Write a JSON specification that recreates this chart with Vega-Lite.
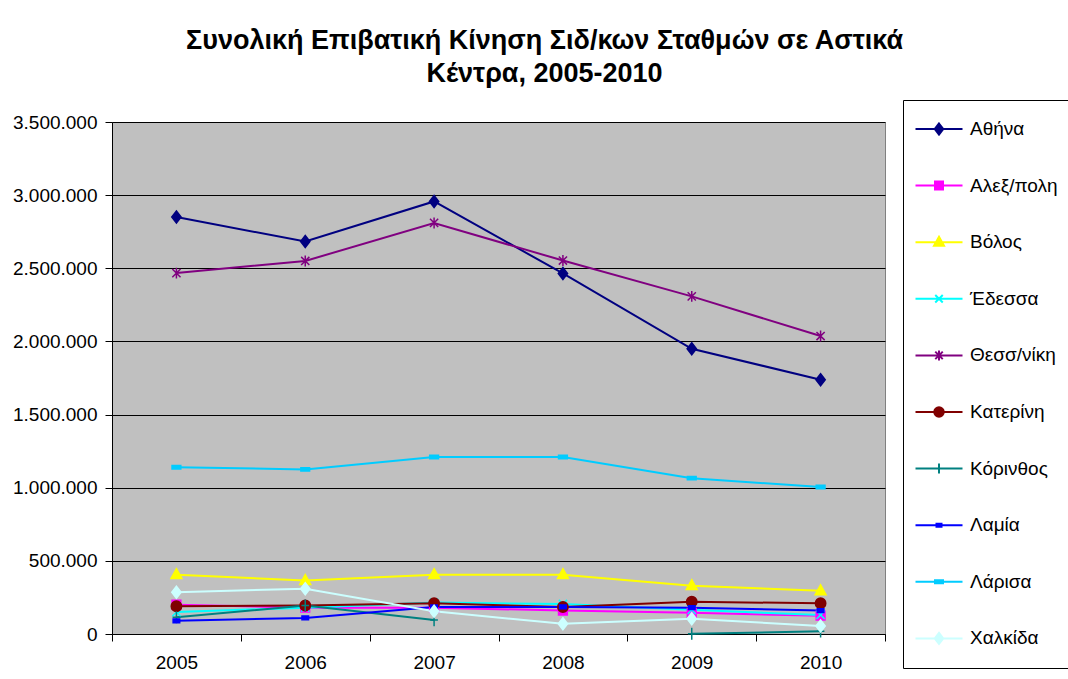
{
  "$schema": "https://vega.github.io/schema/vega-lite/v6.json",
  "width": 773,
  "height": 512,
  "autosize": {"type": "none"},
  "padding": {"left": 112, "top": 122, "right": 183, "bottom": 45},
  "background": "white",
  "title": {
    "text": ["Συνολική Επιβατική Κίνηση Σιδ/κων Σταθμών σε Αστικά", "Κέντρα, 2005-2010"],
    "font": "Liberation Sans",
    "fontSize": 27,
    "fontWeight": "bold",
    "color": "black",
    "anchor": "middle",
    "frame": "group",
    "dx": 46,
    "offset": 12,
    "lineHeight": 33
  },
  "data": {
    "values": [
      {"year": "2005", "city": "Αθήνα", "value": 2850000},
      {"year": "2006", "city": "Αθήνα", "value": 2683000},
      {"year": "2007", "city": "Αθήνα", "value": 2957000},
      {"year": "2008", "city": "Αθήνα", "value": 2465000},
      {"year": "2009", "city": "Αθήνα", "value": 1950000},
      {"year": "2010", "city": "Αθήνα", "value": 1738000},
      {"year": "2005", "city": "Αλεξ/πολη", "value": 200000},
      {"year": "2006", "city": "Αλεξ/πολη", "value": 180000},
      {"year": "2007", "city": "Αλεξ/πολη", "value": 180000},
      {"year": "2008", "city": "Αλεξ/πολη", "value": 160000},
      {"year": "2009", "city": "Αλεξ/πολη", "value": 145000},
      {"year": "2010", "city": "Αλεξ/πολη", "value": 125000},
      {"year": "2005", "city": "Βόλος", "value": 405000},
      {"year": "2006", "city": "Βόλος", "value": 365000},
      {"year": "2007", "city": "Βόλος", "value": 405000},
      {"year": "2008", "city": "Βόλος", "value": 405000},
      {"year": "2009", "city": "Βόλος", "value": 330000},
      {"year": "2010", "city": "Βόλος", "value": 295000},
      {"year": "2005", "city": "Έδεσσα", "value": 150000},
      {"year": "2006", "city": "Έδεσσα", "value": 180000},
      {"year": "2007", "city": "Έδεσσα", "value": 215000},
      {"year": "2008", "city": "Έδεσσα", "value": 205000},
      {"year": "2009", "city": "Έδεσσα", "value": 165000},
      {"year": "2010", "city": "Έδεσσα", "value": 130000},
      {"year": "2005", "city": "Θεσσ/νίκη", "value": 2467000},
      {"year": "2006", "city": "Θεσσ/νίκη", "value": 2550000},
      {"year": "2007", "city": "Θεσσ/νίκη", "value": 2810000},
      {"year": "2008", "city": "Θεσσ/νίκη", "value": 2553000},
      {"year": "2009", "city": "Θεσσ/νίκη", "value": 2308000},
      {"year": "2010", "city": "Θεσσ/νίκη", "value": 2037000},
      {"year": "2005", "city": "Κατερίνη", "value": 190000},
      {"year": "2006", "city": "Κατερίνη", "value": 195000},
      {"year": "2007", "city": "Κατερίνη", "value": 210000},
      {"year": "2008", "city": "Κατερίνη", "value": 185000},
      {"year": "2009", "city": "Κατερίνη", "value": 220000},
      {"year": "2010", "city": "Κατερίνη", "value": 210000},
      {"year": "2005", "city": "Κόρινθος", "value": 115000},
      {"year": "2006", "city": "Κόρινθος", "value": 195000},
      {"year": "2007", "city": "Κόρινθος", "value": 95000},
      {"year": "2008", "city": "Κόρινθος", "value": null},
      {"year": "2009", "city": "Κόρινθος", "value": 2000},
      {"year": "2010", "city": "Κόρινθος", "value": 18000},
      {"year": "2005", "city": "Λαμία", "value": 90000},
      {"year": "2006", "city": "Λαμία", "value": 110000},
      {"year": "2007", "city": "Λαμία", "value": 185000},
      {"year": "2008", "city": "Λαμία", "value": 185000},
      {"year": "2009", "city": "Λαμία", "value": 180000},
      {"year": "2010", "city": "Λαμία", "value": 160000},
      {"year": "2005", "city": "Λάρισα", "value": 1140000},
      {"year": "2006", "city": "Λάρισα", "value": 1125000},
      {"year": "2007", "city": "Λάρισα", "value": 1210000},
      {"year": "2008", "city": "Λάρισα", "value": 1210000},
      {"year": "2009", "city": "Λάρισα", "value": 1065000},
      {"year": "2010", "city": "Λάρισα", "value": 1005000},
      {"year": "2005", "city": "Χαλκίδα", "value": 285000},
      {"year": "2006", "city": "Χαλκίδα", "value": 310000},
      {"year": "2007", "city": "Χαλκίδα", "value": 155000},
      {"year": "2008", "city": "Χαλκίδα", "value": 70000},
      {"year": "2009", "city": "Χαλκίδα", "value": 105000},
      {"year": "2010", "city": "Χαλκίδα", "value": 55000}
    ]
  },
  "encoding": {
    "x": {
      "field": "year",
      "type": "ordinal",
      "scale": {"paddingInner": 0, "paddingOuter": 0},
      "axis": {
        "title": null,
        "labelAngle": 0,
        "tickBand": "extent",
        "tickSize": 7,
        "labelPadding": 12,
        "labelFont": "Liberation Sans",
        "labelFontSize": 19,
        "labelColor": "black",
        "domainColor": "black",
        "tickColor": "black",
        "grid": false
      }
    },
    "y": {
      "field": "value",
      "type": "quantitative",
      "scale": {"domain": [0, 3500000], "nice": false},
      "axis": {
        "title": null,
        "values": [0, 500000, 1000000, 1500000, 2000000, 2500000, 3000000, 3500000],
        "format": ",d",
        "labelFont": "Liberation Sans",
        "labelFontSize": 19,
        "labelColor": "black",
        "tickSize": 7,
        "labelPadding": 8,
        "tickColor": "black",
        "domainColor": "black",
        "gridColor": "black",
        "gridWidth": 1,
        "gridOpacity": 1
      }
    }
  },
  "layer": [
    {
      "mark": {"type": "line", "strokeWidth": 2, "invalid": "break-paths-filter-domains"},
      "encoding": {
        "stroke": {
          "field": "city",
          "type": "nominal",
          "scale": {
            "domain": ["Αθήνα", "Αλεξ/πολη", "Βόλος", "Έδεσσα", "Θεσσ/νίκη", "Κατερίνη", "Κόρινθος", "Λαμία", "Λάρισα", "Χαλκίδα"],
            "range": ["#000080", "#FF00FF", "#FFFF00", "#00FFFF", "#800080", "#800000", "#008080", "#0000FF", "#00CCFF", "#CCFFFF"]
          },
          "legend": null
        }
      }
    },
    {
      "mark": {"type": "point", "filled": true, "size": 120, "strokeWidth": 1.5, "opacity": 1},
      "encoding": {
        "fill": {
          "field": "city",
          "type": "nominal",
          "scale": {
            "domain": ["Αθήνα", "Αλεξ/πολη", "Βόλος", "Έδεσσα", "Θεσσ/νίκη", "Κατερίνη", "Κόρινθος", "Λαμία", "Λάρισα", "Χαλκίδα"],
            "range": ["#000080", "#FF00FF", "#FFFF00", "#00FFFF", "#800080", "#800000", "#008080", "#0000FF", "#00CCFF", "#CCFFFF"]
          },
          "legend": null
        },
        "stroke": {
          "field": "city",
          "type": "nominal",
          "scale": {
            "domain": ["Αθήνα", "Αλεξ/πολη", "Βόλος", "Έδεσσα", "Θεσσ/νίκη", "Κατερίνη", "Κόρινθος", "Λαμία", "Λάρισα", "Χαλκίδα"],
            "range": ["#000080", "#FF00FF", "#FFFF00", "#00FFFF", "#800080", "#800000", "#008080", "#0000FF", "#00CCFF", "#CCFFFF"]
          },
          "legend": null
        },
        "shape": {
          "field": "city",
          "type": "nominal",
          "scale": {
            "domain": ["Αθήνα", "Αλεξ/πολη", "Βόλος", "Έδεσσα", "Θεσσ/νίκη", "Κατερίνη", "Κόρινθος", "Λαμία", "Λάρισα", "Χαλκίδα"],
            "range": [
              "M0,-1.1L0.85,0L0,1.1L-0.85,0Z",
              "M-0.8,-0.8H0.8V0.8H-0.8Z",
              "M0,-1.1L1,0.7L-1,0.7Z",
              "M-0.75,-0.75L0.75,0.75M-0.75,0.75L0.75,-0.75",
              "M-0.75,-0.75L0.75,0.75M-0.75,0.75L0.75,-0.75M0,-1L0,1",
              "M0.95,0A0.95,0.95,0,1,1,-0.95,0A0.95,0.95,0,1,1,0.95,0Z",
              "M-0.7,0L0.7,0M0,-1.1L0,1.1",
              "M-0.6,-0.35H0.6V0.35H-0.6Z",
              "M-0.8,-0.3H0.8V0.3H-0.8Z",
              "M0,-1.1L0.85,0L0,1.1L-0.85,0Z"
            ]
          },
          "legend": null
        }
      }
    },
    {
      "transform": [{"filter": "false"}],
      "mark": {"type": "point", "filled": true, "size": 2500, "strokeWidth": 2, "opacity": 1},
      "encoding": {
        "fill": {
          "field": "city",
          "type": "nominal",
          "scale": {
            "domain": ["Αθήνα", "Αλεξ/πολη", "Βόλος", "Έδεσσα", "Θεσσ/νίκη", "Κατερίνη", "Κόρινθος", "Λαμία", "Λάρισα", "Χαλκίδα"],
            "range": ["#000080", "#FF00FF", "#FFFF00", "#00FFFF", "#800080", "#800000", "#008080", "#0000FF", "#00CCFF", "#CCFFFF"]
          },
          "legend": {"title": null}
        },
        "stroke": {
          "field": "city",
          "type": "nominal",
          "scale": {
            "domain": ["Αθήνα", "Αλεξ/πολη", "Βόλος", "Έδεσσα", "Θεσσ/νίκη", "Κατερίνη", "Κόρινθος", "Λαμία", "Λάρισα", "Χαλκίδα"],
            "range": ["#000080", "#FF00FF", "#FFFF00", "#00FFFF", "#800080", "#800000", "#008080", "#0000FF", "#00CCFF", "#CCFFFF"]
          },
          "legend": {"title": null}
        },
        "shape": {
          "field": "city",
          "type": "nominal",
          "scale": {
            "domain": ["Αθήνα", "Αλεξ/πολη", "Βόλος", "Έδεσσα", "Θεσσ/νίκη", "Κατερίνη", "Κόρινθος", "Λαμία", "Λάρισα", "Χαλκίδα"],
            "range": [
              "M-0.94,0H0.94M0,-0.22L0.17,0L0,0.22L-0.17,0Z",
              "M-0.94,0H0.94M-0.16,-0.16H0.16V0.16H-0.16Z",
              "M-0.94,0H0.94M0,-0.22L0.2,0.14L-0.2,0.14Z",
              "M-0.94,0H0.94M-0.15,-0.15L0.15,0.15M-0.15,0.15L0.15,-0.15",
              "M-0.94,0H0.94M-0.15,-0.15L0.15,0.15M-0.15,0.15L0.15,-0.15M0,-0.2L0,0.2",
              "M-0.94,0H0.94M0.19,0A0.19,0.19,0,1,1,-0.19,0A0.19,0.19,0,1,1,0.19,0Z",
              "M-0.94,0H0.94M0,-0.2L0,0.2",
              "M-0.94,0H0.94M-0.1,-0.06H0.1V0.06H-0.1Z",
              "M-0.94,0H0.94M-0.16,-0.06H0.16V0.06H-0.16Z",
              "M-0.94,0H0.94M0,-0.22L0.17,0L0,0.22L-0.17,0Z"
            ]
          },
          "legend": {"title": null}
        }
      }
    }
  ],
  "resolve": {
    "scale": {"fill": "independent", "stroke": "independent", "shape": "independent"},
    "legend": {"fill": "independent", "stroke": "independent", "shape": "independent"}
  },
  "config": {
    "locale": {"number": {"decimal": ",", "thousands": ".", "grouping": [3], "currency": ["", " €"]}},
    "view": {"fill": "#C0C0C0", "stroke": "#808080", "strokeWidth": 1},
    "legend": {
      "orient": "none",
      "legendX": 791,
      "legendY": -22,
      "padding": 10,
      "strokeColor": "black",
      "strokeWidth": 1,
      "fillColor": "white",
      "labelFont": "Liberation Sans",
      "labelFontSize": 19,
      "labelColor": "black",
      "labelOffset": 5,
      "labelLimit": 300,
      "symbolSize": 2500,
      "symbolStrokeWidth": 2,
      "symbolOpacity": 1,
      "rowPadding": 18.6,
      "clipHeight": 38,
      "symbolLimit": 0
    }
  }
}
